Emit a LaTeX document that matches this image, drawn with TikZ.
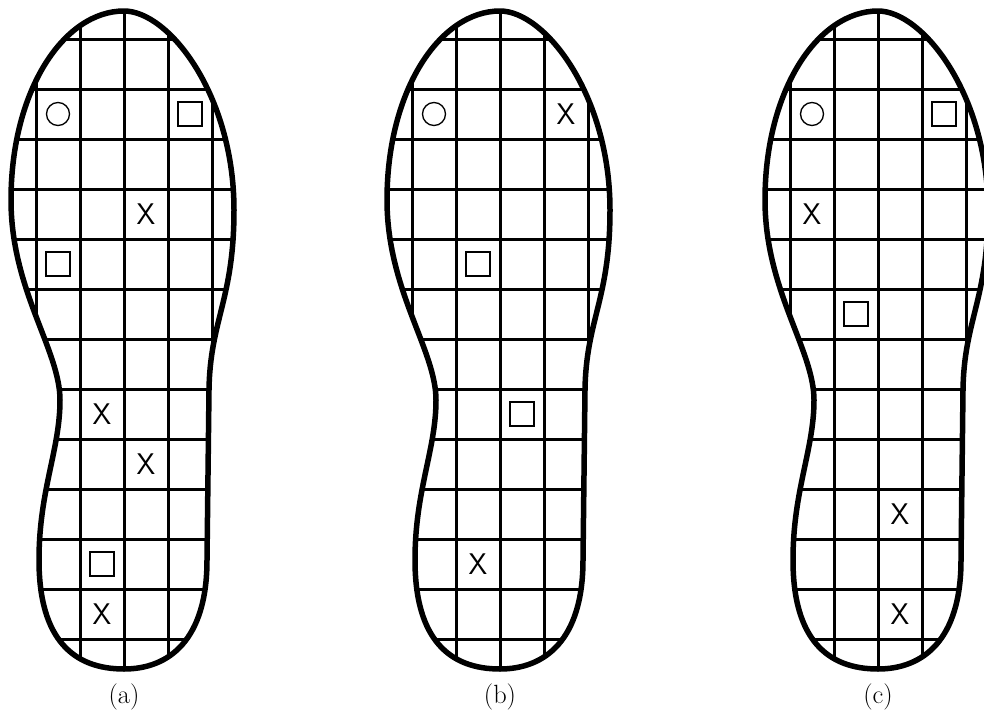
\documentclass[tikz,border=0pt]{standalone}
\usepackage{tikz}
\usetikzlibrary{calc}
% outline of one sole, centre line at x=0
\newcommand{\soleshape}{(0,11) .. controls (45,11) and (110,95) .. (110,210)
  .. controls (110,300) and (86,320) .. (85,390)
  -- (83,560)
  .. controls (83,640) and (45,669) .. (0,669)
  .. controls (-50,669) and (-85,640) .. (-85,560)
  .. controls (-85,490) and (-64,450) .. (-64,400)
  .. controls (-64,350) and (-113,290) .. (-113,200)
  .. controls (-113,90) and (-60,11) .. (0,11) -- cycle}
\newcommand{\solegrid}{%
  \begin{scope}
    \clip \soleshape;
    \foreach \gx in {-88,-44,0,44,88}{
      \draw[gridline] (\gx,0) -- (\gx,700);
    }
    \foreach \gy in {39,89,...,639}{
      \draw[gridline] (-130,\gy) -- (130,\gy);
    }
  \end{scope}
  \draw[soleline] \soleshape;}

\begin{document}
\begin{tikzpicture}[x=0.2mm, y=-0.2mm,
    soleline/.style={line width=1.1mm, line join=round},
    gridline/.style={line width=0.6mm},
    ringsym/.style={circle, draw, line width=0.27mm, minimum size=4.6mm, inner sep=0pt},
    boxsym/.style={rectangle, draw, line width=0.27mm, minimum size=4.8mm, inner sep=0pt},
    crosssym/.style={font=\sffamily\fontsize{17}{17}\selectfont, inner sep=0pt},
    caption/.style={font=\fontsize{15}{15}\selectfont, inner sep=0pt}]
  \useasboundingbox (0,0) rectangle (984,711);
  \clip (0,0) rectangle (984,711);

  % Sole (a)
  \begin{scope}[shift={(124,0)}]
    \solegrid
    \node[ringsym] (a-ring) at (-66,114) {};
    \node[boxsym] (a-box1) at (66,114) {};
    \node[crosssym] (a-x1) at (22,214) {X};
    \node[boxsym] (a-box2) at (-66,264) {};
    \node[crosssym] (a-x2) at (-22,414) {X};
    \node[crosssym] (a-x3) at (22,464) {X};
    \node[boxsym] (a-box3) at (-22,564) {};
    \node[crosssym] (a-x4) at (-22,614) {X};
    \node[caption] (a-cap) at (0,697) {(a)};
  \end{scope}

  % Sole (b)
  \begin{scope}[shift={(500,0)}]
    \solegrid
    \node[ringsym] (b-ring) at (-66,114) {};
    \node[crosssym] (b-x1) at (66,114) {X};
    \node[boxsym] (b-box1) at (-22,264) {};
    \node[boxsym] (b-box2) at (22,414) {};
    \node[crosssym] (b-x2) at (-22,564) {X};
    \node[caption] (b-cap) at (0,697) {(b)};
  \end{scope}

  % Sole (c), cut at the right edge
  \begin{scope}[shift={(878,0)}]
    \solegrid
    \node[ringsym] (c-ring) at (-66,114) {};
    \node[boxsym] (c-box1) at (66,114) {};
    \node[crosssym] (c-x1) at (-66,214) {X};
    \node[boxsym] (c-box2) at (-22,314) {};
    \node[crosssym] (c-x2) at (22,514) {X};
    \node[crosssym] (c-x3) at (22,614) {X};
    \node[caption] (c-cap) at (0,697) {(c)};
  \end{scope}
\end{tikzpicture}
\end{document}
